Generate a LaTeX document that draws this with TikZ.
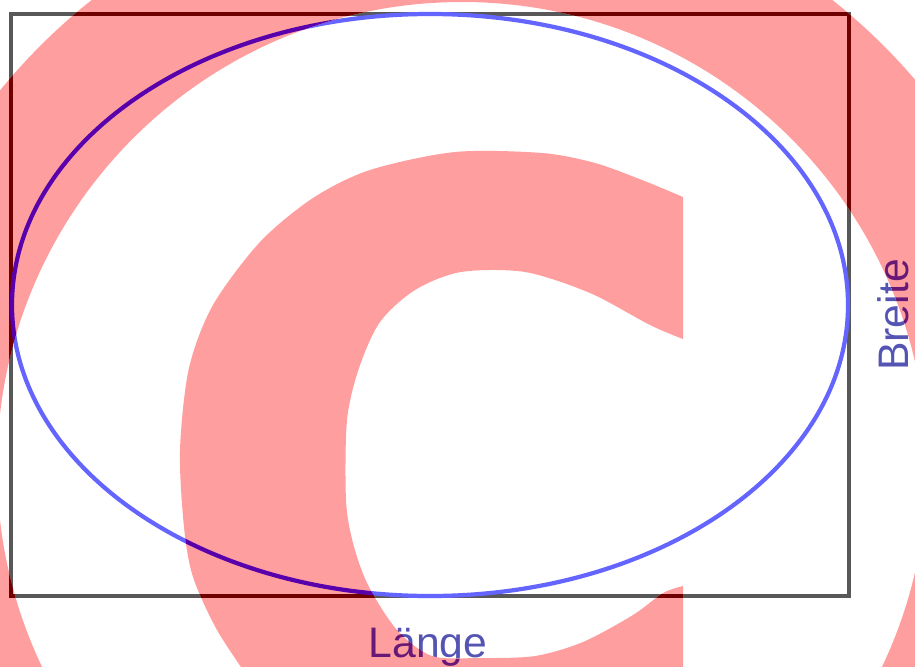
\documentclass[tikz,border=0pt]{standalone}
\usepackage{fontspec}
\setmainfont{Liberation Sans}
\usepackage{tikz}
\usetikzlibrary{positioning}
\definecolor{wmrot}{RGB}{255,158,158}
\definecolor{rahmengrau}{RGB}{88,88,88}
\definecolor{rahmenrot}{RGB}{112,0,0}
\definecolor{ovalblau}{RGB}{100,100,255}
\definecolor{ovallila}{RGB}{88,0,172}
\definecolor{textblau}{RGB}{84,84,180}
\definecolor{textlila}{RGB}{104,24,118}
% Rahmen, Ellipse und Beschriftung in drei Farben
\newcommand{\formen}[3]{%
  \draw[rahmen,draw=#1] (11,14) rectangle (849,596);
  \draw[oval,draw=#2] (430,305) ellipse [x radius=418, y radius=291];
  \node[lbl,text=#3,anchor=base] (laenge) at (428,657) {Länge};
  \node[lbl,text=#3,anchor=base,rotate=90] (breite) at (908,315) {Breite};
}
\newcommand{\wmRing}{(462,467) circle (465) (462,467) circle (596)}
\newcommand{\wmC}{plot[smooth] coordinates {(683,197) (642,180) (595,163) (542,153) (455,152) (370,170) (313,198) (260,242) (213,305) (189,368) (180,450) (184,527) (193,577) (217,630) (250,680)}
  -- (683,760) -- plot[smooth] coordinates {(683,586) (663,593) (633,615) (583,642) (535,656) (480,658) (432,656) (397,630) (368,585) (353,543) (346,500) (347,420) (359,368) (380,322) (415,290) (461,272) (525,272) (590,293) (650,325) (683,339)} -- cycle}

\begin{document}
\begin{tikzpicture}[x=0.02cm,y=-0.02cm,
  rahmen/.style={line width=2.4pt},
  oval/.style={line width=2.4pt},
  lbl/.style={font=\fontsize{24.3}{29}\selectfont,inner sep=0pt}]
  \clip (0,0) rectangle (915,666);
  \fill[white] (0,0) rectangle (915,666);
  \formen{rahmengrau}{ovalblau}{textblau}
  % Wasserzeichen: Ring und C
  \fill[wmrot,even odd rule] \wmRing;
  \fill[wmrot] \wmC;
  \begin{scope}[even odd rule]
    \clip \wmRing;
    \formen{rahmenrot}{ovallila}{textlila}
  \end{scope}
  \begin{scope}
    \clip \wmC;
    \formen{rahmenrot}{ovallila}{textlila}
  \end{scope}
\end{tikzpicture}
\end{document}
